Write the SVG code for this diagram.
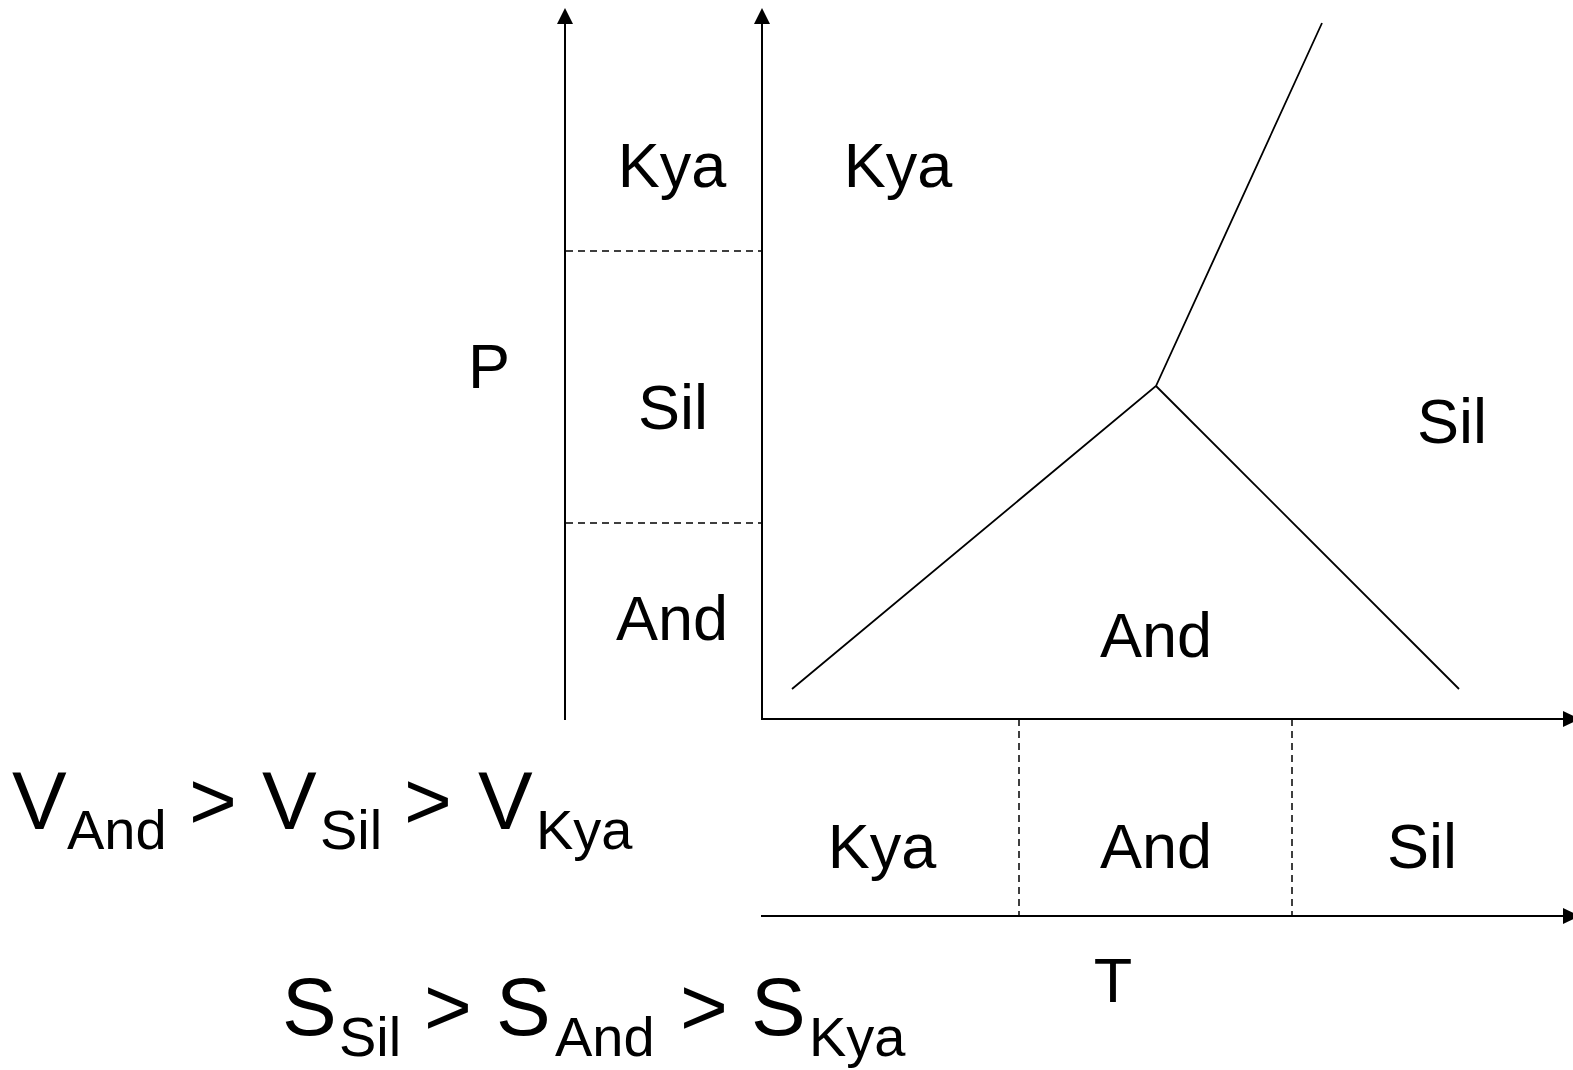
<svg xmlns="http://www.w3.org/2000/svg" width="1573" height="1070" viewBox="0 0 1573 1070">
<defs>
<style>
.ax{stroke:#000;stroke-width:2;fill:none}
.ln{stroke:#000;stroke-width:1.8;fill:none}
.ds{stroke:#000;stroke-width:1.5;stroke-dasharray:7,5;fill:none}
.ah{fill:#000}
.lb{font-family:"Liberation Sans",Arial,sans-serif;font-size:63px;fill:#000;text-anchor:middle}
.big{font-family:"Liberation Sans",Arial,sans-serif;font-size:82px;fill:#000}
.sub{font-family:"Liberation Sans",Arial,sans-serif;font-size:56px;fill:#000}
</style>
</defs>
<rect width="1573" height="1070" fill="#fff"/>
<g id="connectors">
<line class="ax" x1="565" y1="720" x2="565" y2="22"/>
<polygon class="ah" points="565,8 557,24 573,24"/>
<line class="ax" x1="762" y1="719" x2="762" y2="22"/>
<polygon class="ah" points="762,8 754,24 770,24"/>
<line class="ax" x1="761" y1="719" x2="1566" y2="719"/>
<polygon class="ah" points="1580,719 1563,711 1563,727"/>
<line class="ax" x1="761" y1="916" x2="1566" y2="916"/>
<polygon class="ah" points="1580,916 1563,908 1563,924"/>
<line class="ds" x1="566" y1="251" x2="762" y2="251"/>
<line class="ds" x1="566" y1="523" x2="762" y2="523"/>
<line class="ds" x1="1019" y1="719" x2="1019" y2="916"/>
<line class="ds" x1="1292" y1="719" x2="1292" y2="916"/>
<polyline class="ln" points="792,689 1156,386 1322,23"/>
<line class="ln" x1="1156" y1="386" x2="1459" y2="689"/>
</g>
<g id="labels">
<text class="lb" x="672" y="187">Kya</text>
<text class="lb" x="898" y="187">Kya</text>
<text class="lb" x="489" y="388">P</text>
<text class="lb" x="673" y="429">Sil</text>
<text class="lb" x="672" y="640">And</text>
<text class="lb" x="1156" y="657">And</text>
<text class="lb" x="1452" y="443">Sil</text>
<text class="lb" x="882" y="868">Kya</text>
<text class="lb" x="1156" y="868">And</text>
<text class="lb" x="1422" y="868">Sil</text>
<text class="lb" x="1113" y="1002">T</text>
</g>
<g id="volume">
<text class="big" x="12" y="829">V</text>
<text class="sub" x="67" y="849">And</text>
<text class="big" x="189" y="829">&gt;</text>
<text class="big" x="262" y="829">V</text>
<text class="sub" x="320" y="849">Sil</text>
<text class="big" x="404" y="829">&gt;</text>
<text class="big" x="478" y="829">V</text>
<text class="sub" x="536" y="849">Kya</text>
</g>
<g id="entropy">
<text class="big" x="282" y="1035">S</text>
<text class="sub" x="339" y="1056">Sil</text>
<text class="big" x="424" y="1035">&gt;</text>
<text class="big" x="496" y="1035">S</text>
<text class="sub" x="555" y="1056">And</text>
<text class="big" x="680" y="1035">&gt;</text>
<text class="big" x="751" y="1035">S</text>
<text class="sub" x="809" y="1056">Kya</text>
</g>
</svg>
